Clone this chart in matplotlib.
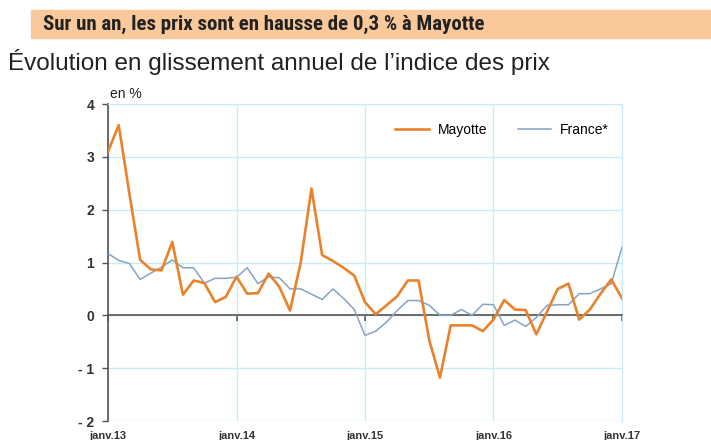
import numpy as np
import matplotlib
matplotlib.use("Agg")
import matplotlib.pyplot as plt
from matplotlib.patches import Rectangle
from matplotlib import font_manager

plt.rcParams['font.family'] = ['Liberation Sans', 'DejaVu Sans']

# monthly points, janv.13 -> janv.17
mayotte = [3.1, 3.6, 2.3, 1.05, 0.87, 0.85, 1.39, 0.39, 0.66, 0.61, 0.25, 0.35,
           0.73, 0.41, 0.42, 0.79, 0.54, 0.09, 1.0, 2.4, 1.14, 1.03, 0.9, 0.75,
           0.25, 0.02, 0.19, 0.36, 0.66, 0.66, -0.47, -1.18, -0.19, -0.19, -0.19, -0.3,
           -0.08, 0.29, 0.11, 0.1, -0.36, 0.07, 0.5, 0.6, -0.08, 0.11, 0.41, 0.68,
           0.32]
france = [1.17, 1.04, 0.98, 0.68, 0.8, 0.91, 1.05, 0.9, 0.9, 0.61, 0.7, 0.7,
          0.72, 0.9, 0.6, 0.73, 0.71, 0.5, 0.5, 0.4, 0.3, 0.5, 0.32, 0.11,
          -0.38, -0.3, -0.13, 0.09, 0.28, 0.28, 0.19, 0.0, 0.0, 0.11, 0.0, 0.21,
          0.2, -0.19, -0.09, -0.21, -0.04, 0.19, 0.2, 0.2, 0.41, 0.41, 0.5, 0.6,
          1.29]
year_labels = ['janv.13', 'janv.14', 'janv.15', 'janv.16', 'janv.17']
y_ticks = [-2, -1, 0, 1, 2, 3, 4]
y_labels = ['- 2', '- 1', '0', '1', '2', '3', '4']

orange = '#e8822c'
blue = '#86a3c3'
grid_c = '#c8ecf6'
dark = '#555555'

# narrow bold face for the banner if one is around
installed = {f.name for f in font_manager.fontManager.ttflist}
title_font, title_size = 'Liberation Sans', 12.6
for name in ['Liberation Sans Narrow', 'Arial Narrow', 'Roboto Condensed', 'Open Sans Condensed']:
    if name in installed:
        title_font, title_size = name, 15
        break

fig = plt.figure(figsize=(7.11, 4.4), dpi=100)

# banner
fig.patches.append(Rectangle((31 / 711, 1 - 38 / 440), 1, 28 / 440,
                             transform=fig.transFigure, color='#f9c89b', zorder=0))
fig.text(43 / 711, 1 - 24 / 440, "Sur un an, les prix sont en hausse de 0,3 % à Mayotte",
         fontsize=title_size, fontweight='bold', color='#222222', va='center', ha='left',
         family=[title_font, 'DejaVu Sans'])
fig.text(8 / 711, 1 - 62 / 440, "Évolution en glissement annuel de l\u2019indice des prix",
         fontsize=17.45, color='#222222', va='center', ha='left')

ax = fig.add_axes([108 / 711, 19 / 440, 514 / 711, 317 / 440])
x = np.arange(len(mayotte))
ax.plot(x, mayotte, color=orange, lw=1.9, label='Mayotte', zorder=4)
ax.plot(x, france, color=blue, lw=1.1, label='France*', zorder=3)

ax.set_xlim(0, 48)
ax.set_ylim(-2, 4)
ax.set_yticks(y_ticks)
ax.set_yticklabels(y_labels, fontsize=10, fontweight='bold', color='#333333')
ax.set_xticks(np.arange(0, 49, 12))
ax.grid(True, color=grid_c, lw=1, zorder=0)
ax.set_axisbelow(True)

for s in ['top', 'right']:
    ax.spines[s].set_color(grid_c)
ax.spines['left'].set_color(dark)
ax.spines['left'].set_linewidth(1.2)
ax.spines['bottom'].set_position(('data', 0))
ax.spines['bottom'].set_color(dark)
ax.spines['bottom'].set_linewidth(1.2)
ax.tick_params(axis='y', length=4, width=1, color=dark, pad=6)
ax.tick_params(axis='x', length=4, width=1.2, color=dark, labelbottom=False)

sec = ax.secondary_xaxis(0)
sec.set_xticks(np.arange(0, 49, 12))
sec.set_xticklabels(year_labels, fontsize=8, fontweight='bold', color='#333333')
sec.tick_params(length=0, pad=7)
sec.spines['bottom'].set_visible(False)

ax.text(0.004, 1.008, 'en %', transform=ax.transAxes, fontsize=10,
        color='#222222', ha='left', va='bottom')

ax.legend(ncol=2, frameon=False, loc='center right', bbox_to_anchor=(0.975, 0.918),
          handlelength=2.4, handletextpad=0.65, columnspacing=2.2,
          borderaxespad=0, borderpad=0, prop={'size': 10})

fig.savefig('out.png', dpi=100)
